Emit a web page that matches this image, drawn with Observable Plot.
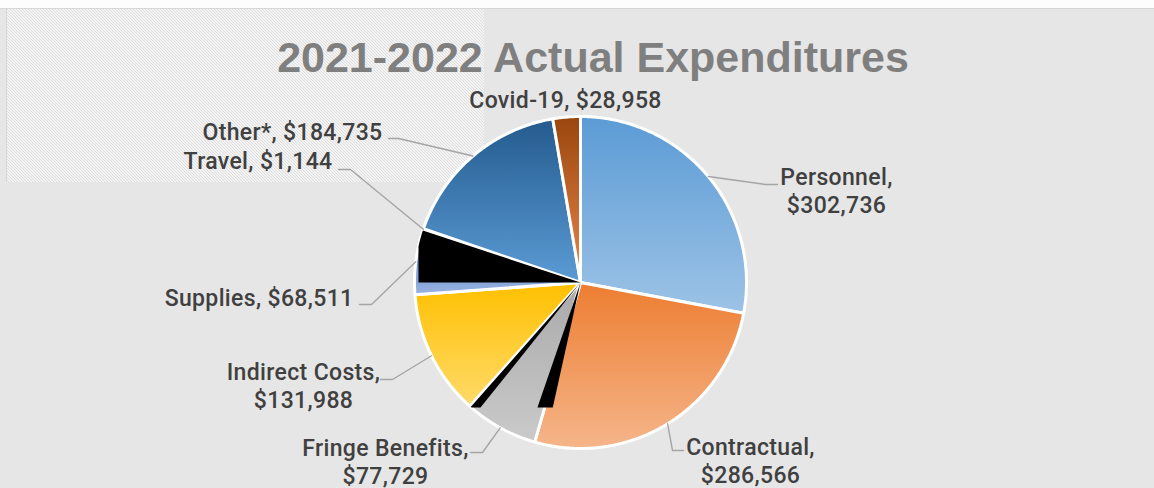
<!DOCTYPE html>
<html><head><meta charset="utf-8">
<script src="https://cdn.jsdelivr.net/npm/d3@7"></script>
<script src="https://cdn.jsdelivr.net/npm/@observablehq/plot@0.6"></script>
<style>
html,body{margin:0;padding:0;background:#e6e6e6;}
#wrap{position:relative;width:1154px;height:488px;overflow:hidden;background:#e6e6e6;}
#topstrip{position:absolute;left:0;top:0;width:1154px;height:8px;background:#fdfdfd;border-bottom:1px solid #d6d6d6;}
#hatch{position:absolute;left:6px;top:9px;width:477px;height:173px;border-left:1px solid #d6d6d6;background-color:#f3f3f3;background-image:url("data:image/svg+xml,%3Csvg xmlns='http://www.w3.org/2000/svg' width='3' height='3' shape-rendering='crispEdges'%3E%3Crect x='0' y='0' width='1' height='1' fill='%23dedede'/%3E%3Crect x='1' y='1' width='1' height='1' fill='%23dedede'/%3E%3Crect x='2' y='2' width='1' height='1' fill='%23dedede'/%3E%3C/svg%3E");background-size:3px 3px;}
#chart{position:absolute;left:0;top:0;}
</style></head>
<body><div id="wrap"><div id="topstrip"></div><div id="hatch"></div><div id="chart"></div></div>
<script>
// ---- data ----
const title = "2021-2022 Actual Expenditures";
const categories = ["Personnel","Contractual","Fringe Benefits","Indirect Costs","Supplies","Travel","Other*","Covid-19"];
const amounts = [302736, 286566, 77729, 131988, 68511, 1144, 184735, 28958];
const twoLineLabel = [true, true, true, true, false, false, false, false];

// ---- styles ----
const topColors    = ["#5b9bd5","#ed7d31","#a9a9a9","#ffc000","#4472c4","#70ad47","#245b8e","#9a460e"];
const bottomColors = ["#9dc3e6","#f5b58a","#cacaca","#ffda6a","#9ab3e0","#a9d18e","#5b9bd5","#e8874a"];

// ---- layout (pixels) ----
const W = 1154, H = 488, CX = 580, CY = 282, R = 166;
const labelLayout = [
  {tx:836, ty:212, anchor:"middle", elbow:[765,184], end:[777,184]},
  {tx:750, ty:482, anchor:"middle", elbow:[672,450], end:[683,450]},
  {tx:385, ty:483, anchor:"middle", elbow:[482,452], end:[470,452]},
  {tx:303, ty:407, anchor:"middle", elbow:[392,379], end:[380,379]},
  {tx:353, ty:305, anchor:"end",    elbow:[371,304], end:[359,304]},
  {tx:332, ty:168, anchor:"end",    elbow:[350,169], end:[338,169]},
  {tx:382, ty:139, anchor:"end",    elbow:[398,138], end:[388,138]},
  {tx:565, ty:107, anchor:"middle", elbow:null, end:null}
];
const titlePos = {tx:592.5, ty:71};

const xDomain = [-CX / R, (W - CX) / R];
const yDomain = [-(H - CY) / R, CY / R];
const px2x = px => (px - CX) / R;
const px2y = py => (CY - py) / R;

const total = d3.sum(amounts);
let acc = 0;
const slices = categories.map((c, i) => {
  const a0 = acc / total * 360; acc += amounts[i];
  const a1 = acc / total * 360;
  return {c, i, a0, a1, mid: (a0 + a1) / 2};
});

function sectorPoints(a0, a1, key, rCut) {
  const pts = [{key, x: 0, y: 0}];
  const n = Math.max(2, Math.ceil((a1 - a0) / 0.4));
  for (let k = 0; k <= n; k++) {
    const a = (a0 + (a1 - a0) * k / n) * Math.PI / 180;
    const r = rCut ? rCut(a) : 1;
    pts.push({key, x: r * Math.sin(a), y: r * Math.cos(a)});
  }
  return pts;
}

// rendering artifacts in the original (dark shading bands)
const byName = n => slices.find(s => s.c === n);
const hCut = a => Math.cos(a) < 0 ? Math.min(1, 0.753 / -Math.cos(a)) : 1;
const vCut = a => Math.sin(a) < 0 ? Math.min(1, 0.976 / -Math.sin(a)) : 1;
const artifacts = [
  {a0: byName("Fringe Benefits").a0 - 3.5, a1: byName("Fringe Benefits").a0 + 3, cut: hCut},
  {a0: byName("Indirect Costs").a0 - 3.2, a1: byName("Indirect Costs").a0 - 0.45, cut: hCut},
  {a0: 270, a1: byName("Other*").a0 - 0.7, cut: vCut}
];

const fmt = d3.format("$,");
const labels = slices.map((s, i) => {
  const L = labelLayout[i];
  const ax = Math.sin(s.mid * Math.PI / 180), ay = Math.cos(s.mid * Math.PI / 180);
  return {
    text: s.c + "," + (twoLineLabel[i] ? "\n" : " ") + fmt(amounts[i]),
    x: px2x(L.tx), y: px2y(L.ty), anchor: L.anchor,
    leader: L.elbow ? [
      {key: i, x: ax, y: ay},
      {key: i, x: px2x(L.elbow[0]), y: px2y(L.elbow[1])},
      {key: i, x: px2x(L.end[0]), y: px2y(L.end[1])}
    ] : []
  };
});

const marks = [];
slices.forEach(s => {
  marks.push(Plot.line(sectorPoints(s.a0, s.a1, s.i), {
    x: "x", y: "y", curve: "linear-closed",
    fill: `url(#grad${s.i})`, stroke: "white", strokeWidth: 3, strokeLinejoin: "round"
  }));
});
artifacts.forEach((a, j) => {
  marks.push(Plot.line(sectorPoints(a.a0, a.a1, "art" + j, a.cut), {
    x: "x", y: "y", curve: "linear-closed", fill: "black", stroke: "none"
  }));
});
marks.push(Plot.line(labels.flatMap(l => l.leader), {
  x: "x", y: "y", z: "key", stroke: "#a5a5a5", strokeWidth: 1.4
}));
const textOpts = {x: "x", y: "y", text: "text", lineAnchor: "bottom", lineHeight: 1.18,
  fontSize: 23, fontFamily: "Roboto, sans-serif", fontWeight: 500, fill: "#404040"};
marks.push(Plot.text(labels.filter(l => l.anchor === "middle"), {...textOpts, textAnchor: "middle"}));
marks.push(Plot.text(labels.filter(l => l.anchor === "end"), {...textOpts, textAnchor: "end"}));
marks.push(Plot.text([{t: title, x: px2x(titlePos.tx), y: px2y(titlePos.ty)}], {
  x: "x", y: "y", text: "t", lineAnchor: "bottom", textAnchor: "middle",
  fontSize: 43, fontWeight: "bold", fontFamily: "Liberation Sans, Arial, sans-serif", fill: "#7f7f7f"
}));

const svg = Plot.plot({
  width: W, height: H,
  marginTop: 0, marginRight: 0, marginBottom: 0, marginLeft: 0,
  x: {domain: xDomain, axis: null},
  y: {domain: yDomain, axis: null},
  style: {background: "transparent", overflow: "visible"},
  marks
});
d3.select(svg).selectAll('g[font-size="23"]').attr("letter-spacing", "0.35px");
const defs = d3.select(svg).insert("defs", ":first-child");
slices.forEach((s, i) => {
  const g = defs.append("linearGradient").attr("id", "grad" + i)
    .attr("x1", 0).attr("y1", 0).attr("x2", 0).attr("y2", 1);
  g.append("stop").attr("offset", "0%").attr("stop-color", topColors[i]);
  g.append("stop").attr("offset", "100%").attr("stop-color", bottomColors[i]);
});
document.getElementById("chart").appendChild(svg);
</script>
</body></html>
